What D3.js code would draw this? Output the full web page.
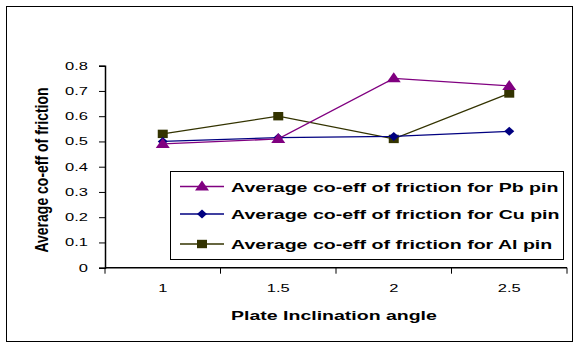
<!DOCTYPE html>
<html>
<head>
<meta charset="utf-8">
<script src="https://cdn.jsdelivr.net/npm/d3@7"></script>
<style>
  body { margin: 0; background: #fff; }
  svg text { font-family: "Liberation Sans", Arial, sans-serif; fill: #000; }
</style>
</head>
<body>
<svg id="chart" width="573" height="343"></svg>
<script>
// Plate inclination angles (category axis)
const angles = ["1", "1.5", "2", "2.5"];
// Average coefficient of friction per pin material
const pbValues = [0.49, 0.51, 0.75, 0.72];
const cuValues = [0.50, 0.515, 0.52, 0.54];
const alValues = [0.53, 0.60, 0.51, 0.69];
const yTicks = [0, 0.1, 0.2, 0.3, 0.4, 0.5, 0.6, 0.7, 0.8];
const seriesNames = [
  "Average co-eff of friction for Pb pin",
  "Average co-eff of friction for Cu pin",
  "Average co-eff of friction for Al pin"
];

const series = [
  { name: seriesNames[0], values: pbValues, color: "#800080", marker: "triangle" },
  { name: seriesNames[1], values: cuValues, color: "#000080", marker: "diamond" },
  { name: seriesNames[2], values: alValues, color: "#333300", marker: "square" }
];

// the chart is drawn with a wide horizontal aspect: text and markers are stretched sideways
const SX = 1.5;

const svg = d3.select("#chart");

function label(parent, x, y, str, opts = {}) {
  return parent.append("text")
    .attr("transform", `translate(${x},${y}) scale(${opts.sx || SX},1)`)
    .attr("text-anchor", opts.anchor || "start")
    .attr("font-size", opts.size || 11)
    .attr("font-weight", opts.bold ? "bold" : "normal")
    .text(str);
}

// outer chart frame
svg.append("rect").attr("x", 6.5).attr("y", 6.5).attr("width", 566).attr("height", 335)
  .attr("fill", "none").attr("stroke", "#000").attr("stroke-width", 1);

const plot = { left: 105, right: 567, top: 65.7, bottom: 267.7 };

const x = d3.scaleBand().domain(angles).range([plot.left, plot.right]);
const y = d3.scaleLinear().domain([0, 0.8]).range([plot.bottom, plot.top]);

// y axis
const yAxis = svg.append("g").attr("transform", `translate(${plot.left},0)`)
  .call(d3.axisLeft(y).tickValues(yTicks).tickSize(6).tickFormat(""));
yAxis.select(".domain").attr("stroke", "#000").attr("stroke-width", 1.5);
yAxis.selectAll(".tick line").attr("stroke", "#000");
yTicks.forEach(t => label(svg, plot.left - 17, y(t) + 4, d3.format("")(t), { anchor: "end" }));

// x axis with tick marks between categories
const xAxisG = svg.append("g").attr("transform", `translate(0,${plot.bottom})`);
xAxisG.append("line").attr("x1", plot.left).attr("x2", plot.right).attr("stroke", "#000").attr("stroke-width", 1.5);
const bounds = angles.map(a => x(a)).concat([plot.right]);
xAxisG.selectAll("line.tick").data(bounds).enter().append("line")
  .attr("class", "tick").attr("x1", d => d).attr("x2", d => d).attr("y1", 0).attr("y2", 6)
  .attr("stroke", "#000");
angles.forEach(a => label(xAxisG, x(a) + x.bandwidth() / 2, 24, a, { anchor: "middle" }));

// axis titles
label(svg, 334, 320, "Plate Inclination angle", { anchor: "middle", size: 13, bold: true });
svg.append("text").attr("transform", "translate(48,170) rotate(-90) scale(1,1.27)")
  .attr("text-anchor", "middle").attr("font-size", 14).attr("font-weight", "bold")
  .text("Average co-eff of friction");

const line = d3.line().x((d, i) => x(angles[i]) + x.bandwidth() / 2).y(d => y(d));

function drawMarker(g, type, color) {
  if (type === "triangle") {
    g.append("path").attr("d", "M0,-6L7,4L-7,4Z").attr("fill", color);
  } else if (type === "diamond") {
    g.append("path").attr("d", "M0,-4.5L5,0L0,4.5L-5,0Z").attr("fill", color);
  } else {
    g.append("rect").attr("x", -5).attr("y", -4.2).attr("width", 10).attr("height", 8.4)
      .attr("fill", color);
  }
}

// series lines and markers (Al first so Pb/Cu lie over)
[series[2], series[1], series[0]].forEach(s => {
  svg.append("path").datum(s.values).attr("d", line).attr("fill", "none")
    .attr("stroke", s.color).attr("stroke-width", 1.3);
  s.values.forEach((v, i) => {
    const g = svg.append("g").attr("transform",
      `translate(${x(angles[i]) + x.bandwidth() / 2},${y(v)})`);
    drawMarker(g, s.marker, s.color);
  });
});

// legend
const legend = svg.append("g");
legend.append("rect").attr("x", 170.5).attr("y", 171.5).attr("width", 393).attr("height", 88)
  .attr("fill", "#fff").attr("stroke", "#000").attr("stroke-width", 1);
const rowY = [186.5, 214, 244];
series.forEach((s, i) => {
  const g = legend.append("g").attr("transform", `translate(0,${rowY[i]})`);
  g.append("line").attr("x1", 180).attr("x2", 224).attr("stroke", s.color).attr("stroke-width", 1.5);
  const m = g.append("g").attr("transform", "translate(202,0)");
  drawMarker(m, s.marker, s.color);
  label(g, 231, 5, s.name, { size: 13.5, bold: true, sx: 1.45 });
});
</script>
</body>
</html>
